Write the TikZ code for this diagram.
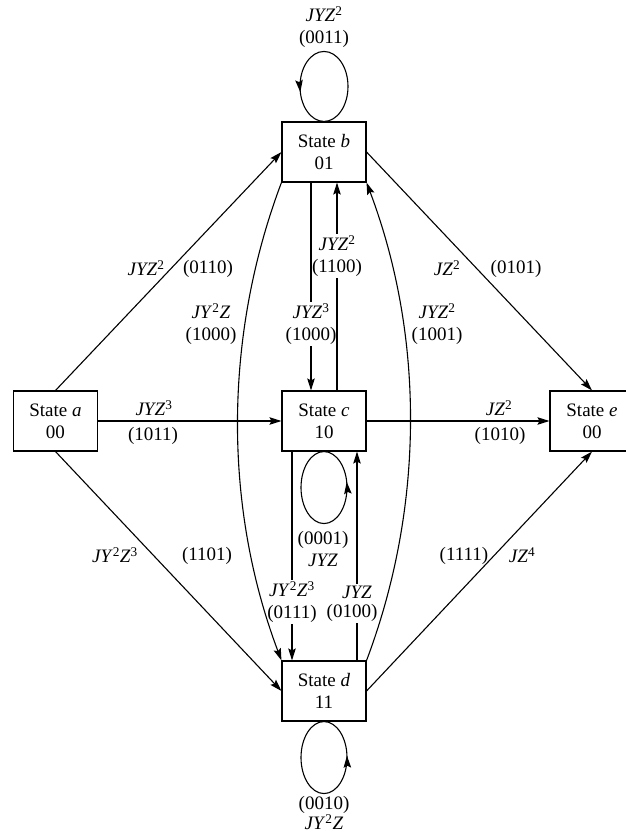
\documentclass[tikz,border=0pt]{standalone}
\usepackage{fontspec}
\setmainfont{Liberation Serif}
\usetikzlibrary{arrows.meta,decorations.markings}
\newcommand{\su}[1]{\textsuperscript{#1}}
\begin{document}
\begin{tikzpicture}[x=1pt,y=-1pt,
  line width=1.1pt,
  every node/.style={font=\fontsize{19}{22}\selectfont},
  state/.style={draw, minimum width=84pt, minimum height=60pt, inner sep=0pt, align=center},
  arr/.style={-{Stealth[length=12pt,width=7.5pt,inset=2pt]}},
  lbl/.style={align=center, inner sep=1pt},
  loopb/.style={postaction={decorate},decoration={markings,mark=at position #1 with {\arrowreversed{Stealth[length=12pt,width=7.5pt,inset=2pt]}}}}
  ]
\useasboundingbox (0,0) rectangle (625,836);
% states
\node[state] (a) at (55.5,421) {State \textit{a}\\00};
\node[state] (b) at (324,152) {State \textit{b}\\01};
\node[state] (c) at (324,421) {State \textit{c}\\10};
\node[state] (d) at (324,691) {State \textit{d}\\11};
\node[state] (e) at (592,421) {State \textit{e}\\00};
% straight connectors
\draw[arr] (a) -- (c);
\draw[arr] (c) -- (e);
\draw[arr] (a.north) -- (b.west);
\draw[arr] (a.south) -- (d.west);
\draw[arr] (b.east) -- (e.north);
\draw[arr] (d.east) -- (e.south);
% curved connectors
\draw[arr] (b.south west) .. controls (223.4,336.3) and (223.4,506.7) .. (d.north west);
\draw[arr] (d.north east) .. controls (424.6,506.7) and (424.6,336.3) .. (b.south east);
% self loops
\draw[loopb=0.47] ([yshift=35pt]b.north) ellipse [x radius=24, y radius=35];
\draw[loopb=0.97] ([yshift=-36pt]c.south) ellipse [x radius=23, y radius=36];
\draw[loopb=0.99] ([yshift=-36pt]d.south) ellipse [x radius=23, y radius=36];
% vertical connectors with inline labels
\node[lbl] (l5) at (311,324) {\textit{JYZ}\su{3}\\(1000)};
\draw (l5.north |- b.south) -- (l5.north);
\draw[arr] (l5.south) -- (l5.south |- c.north);
\node[lbl] (l6) at (337,256) {\textit{JYZ}\su{2}\\(1100)};
\draw (l6.south |- c.north) -- (l6.south);
\draw[arr] (l6.north) -- (l6.north |- b.south);
\node[lbl] (l11) at (292,602) {\textit{JY}\su{2}\textit{Z}\su{3}\\(0111)};
\draw (l11.north |- c.south) -- (l11.north);
\draw[arr] (l11.south) -- (l11.south |- d.north);
\node[lbl] (l12) at (357,592) {\textit{JYZ}};
\node[lbl] (l12b) at (352,613) {(0100)};
\draw (d.north -| l12) -- (l12b.south -| l12);
\draw[arr] (l12.north) -- (c.south -| l12);
% other labels
\node[lbl] (lb) at (324,27) {\textit{JYZ}\su{2}\\(0011)};
\node[lbl] (lab1) at (146,268) {\textit{JYZ}\su{2}};
\node[lbl] (lab2) at (208,269) {(0110)};
\node[lbl] (lbe1) at (447,268) {\textit{JZ}\su{2}};
\node[lbl] (lbe2) at (516,269) {(0101)};
\node[lbl] (lbd) at (211,324) {\textit{JY}\su{2}\textit{Z}\\(1000)};
\node[lbl] (ldb) at (437,324) {\textit{JYZ}\su{2}\\(1001)};
\node[lbl] (lac1) at (154,408) {\textit{JYZ}\su{3}};
\node[lbl] (lac2) at (153,436) {(1011)};
\node[lbl] (lce1) at (499,408) {\textit{JZ}\su{2}};
\node[lbl] (lce2) at (500,436) {(1010)};
\node[lbl] (lc) at (323,549) {(0001)\\\textit{JYZ}};
\node[lbl] (lad1) at (115,555) {\textit{JY}\su{2}\textit{Z}\su{3}};
\node[lbl] (lad2) at (207,556) {(1101)};
\node[lbl] (lde1) at (464,556) {(1111)};
\node[lbl] (lde2) at (522,555) {\textit{JZ}\su{4}};
\node[lbl, font=\fontsize{19}{20.5}\selectfont] (ld) at (324,813) {(0010)\\\textit{JY}\su{2}\textit{Z}};
\end{tikzpicture}
\end{document}
